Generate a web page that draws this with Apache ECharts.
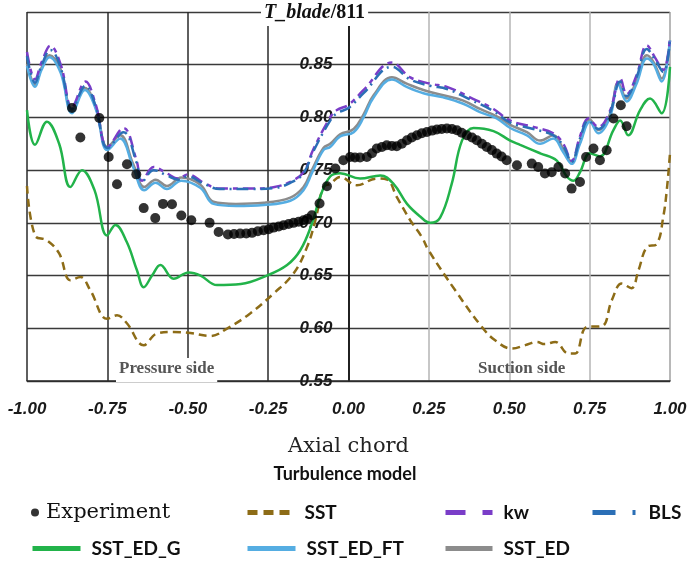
<!DOCTYPE html>
<html>
<head>
<meta charset="utf-8">
<script src="https://cdn.jsdelivr.net/npm/echarts@6/dist/echarts.min.js"></script>
<style>html,body{margin:0;padding:0;background:#fff}#c{width:690px;height:561px}</style>
</head>
<body>
<div id="c"></div>
<script>
// ---- data (x = axial chord, y = T_blade/811) ----
const xTicks = [-1, -0.75, -0.5, -0.25, 0, 0.25, 0.5, 0.75, 1];
const yTicks = [0.55, 0.60, 0.65, 0.70, 0.75, 0.80, 0.85, 0.90];

const experiment = [[-0.86,0.809],[-0.834,0.781],[-0.775,0.7995],[-0.746,0.7625],[-0.72,0.7366],[-0.689,0.7556],[-0.66,0.746],[-0.637,0.714],[-0.601,0.7045],[-0.577,0.718],[-0.549,0.7176],[-0.52,0.707],[-0.489,0.7025],[-0.432,0.700],[-0.404,0.6914],[-0.375,0.689],[-0.356,0.6895],[-0.337,0.6898],[-0.318,0.690],[-0.30,0.6905],[-0.282,0.692],[-0.264,0.693],[-0.248,0.694],[-0.233,0.6955],[-0.217,0.6965],[-0.202,0.6977],[-0.186,0.699],[-0.171,0.700],[-0.155,0.701],[-0.14,0.7025],[-0.127,0.704],[-0.114,0.7072],[-0.09,0.7183],[-0.067,0.7347],[-0.041,0.7515],[-0.016,0.7594],[0.005,0.7625],[0.02,0.762],[0.036,0.762],[0.057,0.7625],[0.073,0.766],[0.088,0.7705],[0.104,0.772],[0.119,0.7736],[0.135,0.773],[0.15,0.7726],[0.166,0.775],[0.182,0.7784],[0.197,0.781],[0.213,0.7831],[0.228,0.785],[0.244,0.7862],[0.26,0.7875],[0.275,0.7885],[0.29,0.789],[0.306,0.7895],[0.322,0.789],[0.337,0.7879],[0.352,0.7855],[0.368,0.7831],[0.384,0.781],[0.399,0.7784],[0.415,0.775],[0.43,0.772],[0.446,0.769],[0.461,0.7657],[0.476,0.763],[0.492,0.7594],[0.524,0.7547],[0.57,0.7562],[0.59,0.753],[0.611,0.7468],[0.632,0.748],[0.653,0.753],[0.674,0.7468],[0.694,0.7325],[0.72,0.7388],[0.739,0.7625],[0.762,0.7705],[0.782,0.7594],[0.803,0.7689],[0.824,0.799],[0.847,0.8116],[0.865,0.7917]];

const sst = [[-1.0,0.735],[-0.975,0.688],[-0.938,0.6835],[-0.9,0.671],[-0.865,0.6455],[-0.834,0.6487],[-0.803,0.636],[-0.751,0.609],[-0.72,0.6123],[-0.69,0.605],[-0.637,0.584],[-0.596,0.595],[-0.544,0.5965],[-0.492,0.5955],[-0.43,0.5927],[-0.378,0.5997],[-0.306,0.614],[-0.233,0.633],[-0.171,0.652],[-0.129,0.677],[-0.103,0.7025],[-0.078,0.734],[-0.057,0.737],[-0.026,0.7436],[0.026,0.7357],[0.088,0.742],[0.12,0.741],[0.15,0.7246],[0.192,0.7025],[0.228,0.6866],[0.249,0.674],[0.332,0.636],[0.415,0.6012],[0.456,0.5886],[0.508,0.5807],[0.55,0.584],[0.586,0.587],[0.61,0.585],[0.643,0.587],[0.684,0.576],[0.705,0.576],[0.741,0.6012],[0.788,0.602],[0.819,0.6266],[0.85,0.6424],[0.88,0.638],[0.902,0.655],[0.928,0.677],[0.959,0.680],[0.979,0.7056],[0.99,0.731],[1.0,0.766]];

const kw = [[-1.00,0.862],[-0.975,0.836],[-0.955,0.852],[-0.927,0.868],[-0.895,0.850],[-0.86,0.810],[-0.818,0.834],[-0.787,0.813],[-0.749,0.772],[-0.70,0.790],[-0.66,0.760],[-0.642,0.740],[-0.606,0.753],[-0.565,0.747],[-0.53,0.742],[-0.50,0.746],[-0.45,0.738],[-0.40,0.7325],[-0.30,0.7325],[-0.23,0.734],[-0.181,0.739],[-0.14,0.748],[-0.109,0.770],[-0.057,0.800],[-0.036,0.807],[0.0,0.812],[0.047,0.826],[0.135,0.852],[0.192,0.838],[0.254,0.832],[0.306,0.829],[0.378,0.819],[0.451,0.808],[0.503,0.797],[0.575,0.791],[0.637,0.785],[0.668,0.775],[0.694,0.759],[0.72,0.782],[0.746,0.799],[0.777,0.791],[0.813,0.806],[0.845,0.837],[0.865,0.822],[0.896,0.840],[0.928,0.8685],[0.953,0.857],[0.979,0.845],[1.0,0.876]];

const bls = [[-1.00,0.858],[-0.975,0.833],[-0.955,0.849],[-0.927,0.864],[-0.895,0.847],[-0.86,0.808],[-0.818,0.830],[-0.787,0.811],[-0.749,0.771],[-0.70,0.786],[-0.66,0.758],[-0.642,0.739],[-0.606,0.750],[-0.565,0.745],[-0.53,0.741],[-0.50,0.744],[-0.45,0.737],[-0.40,0.732],[-0.30,0.732],[-0.23,0.733],[-0.181,0.738],[-0.14,0.747],[-0.109,0.768],[-0.057,0.797],[-0.036,0.804],[0.0,0.809],[0.047,0.823],[0.135,0.848],[0.192,0.836],[0.254,0.830],[0.306,0.827],[0.378,0.817],[0.451,0.806],[0.503,0.795],[0.575,0.789],[0.637,0.783],[0.668,0.773],[0.694,0.758],[0.72,0.780],[0.746,0.797],[0.777,0.789],[0.813,0.804],[0.845,0.834],[0.865,0.820],[0.896,0.838],[0.928,0.865],[0.953,0.855],[0.979,0.843],[1.0,0.874]];

const sstEdG = [[-1.0,0.807],[-0.975,0.774],[-0.938,0.796],[-0.9,0.775],[-0.865,0.734],[-0.829,0.75],[-0.79,0.731],[-0.751,0.688],[-0.725,0.698],[-0.69,0.682],[-0.658,0.655],[-0.637,0.639],[-0.611,0.650],[-0.585,0.660],[-0.544,0.647],[-0.497,0.653],[-0.46,0.650],[-0.409,0.641],[-0.335,0.642],[-0.254,0.650],[-0.191,0.660],[-0.15,0.674],[-0.114,0.699],[-0.088,0.725],[-0.057,0.744],[-0.026,0.747],[0.036,0.742],[0.099,0.745],[0.14,0.737],[0.182,0.718],[0.223,0.706],[0.254,0.700],[0.285,0.705],[0.321,0.737],[0.353,0.778],[0.389,0.790],[0.451,0.787],[0.503,0.778],[0.534,0.774],[0.596,0.766],[0.648,0.759],[0.679,0.744],[0.70,0.740],[0.72,0.748],[0.751,0.766],[0.782,0.763],[0.824,0.788],[0.845,0.797],[0.87,0.783],[0.907,0.807],[0.938,0.818],[0.974,0.804],[1.0,0.848]];

const sstEdFt = [[-1.00,0.849],[-0.975,0.829],[-0.955,0.845],[-0.93,0.857],[-0.895,0.842],[-0.86,0.804],[-0.82,0.826],[-0.785,0.807],[-0.75,0.769],[-0.71,0.780],[-0.67,0.753],[-0.635,0.731],[-0.60,0.738],[-0.565,0.732],[-0.52,0.740],[-0.46,0.733],[-0.42,0.718],[-0.35,0.716],[-0.264,0.717],[-0.181,0.721],[-0.14,0.731],[-0.114,0.747],[-0.078,0.769],[-0.057,0.772],[-0.026,0.782],[0.016,0.786],[0.047,0.80],[0.078,0.819],[0.135,0.836],[0.181,0.829],[0.233,0.823],[0.295,0.819],[0.357,0.813],[0.409,0.805],[0.461,0.799],[0.503,0.790],[0.555,0.783],[0.596,0.775],[0.637,0.780],[0.668,0.767],[0.694,0.756],[0.720,0.775],[0.751,0.796],[0.777,0.785],[0.813,0.800],[0.839,0.831],[0.865,0.815],[0.896,0.832],[0.928,0.856],[0.948,0.851],[0.974,0.834],[1.0,0.873]];

const sstEd = [[-1.00,0.851],[-0.975,0.831],[-0.955,0.847],[-0.93,0.859],[-0.895,0.845],[-0.86,0.806],[-0.82,0.828],[-0.785,0.809],[-0.75,0.772],[-0.71,0.783],[-0.67,0.756],[-0.635,0.734],[-0.60,0.741],[-0.565,0.735],[-0.52,0.743],[-0.46,0.736],[-0.42,0.720],[-0.35,0.718],[-0.264,0.719],[-0.181,0.724],[-0.14,0.734],[-0.114,0.750],[-0.078,0.771],[-0.057,0.775],[-0.026,0.784],[0.016,0.789],[0.047,0.803],[0.078,0.821],[0.135,0.838],[0.181,0.832],[0.233,0.826],[0.295,0.821],[0.357,0.816],[0.409,0.808],[0.461,0.801],[0.503,0.793],[0.555,0.786],[0.596,0.778],[0.637,0.783],[0.668,0.770],[0.694,0.758],[0.720,0.777],[0.751,0.798],[0.777,0.788],[0.813,0.803],[0.839,0.833],[0.865,0.818],[0.896,0.835],[0.928,0.859],[0.948,0.853],[0.974,0.837],[1.0,0.873]];

const colors = {Experiment:'#000000', SST:'#8d6c17', kw:'#7a3dc8', BLS:'#2b6fb6', SST_ED_G:'#22b34a', SST_ED_FT:'#55ade2', SST_ED:'#8c8c8c'};

const chart = echarts.init(document.getElementById('c'), null, {renderer:'canvas'});

const lineSeries = (name, data, type, width, z) => ({
  name, type:'line', data, smooth:0.4, symbol:'none', z,
  lineStyle:{color:colors[name], width, type},
  itemStyle:{color:colors[name]}
});

const legendLine = (name, left, top, w, dash) => ({
  data:[name], left, top, itemWidth:w, itemHeight:14, itemGap:0,
  lineStyle:{width:5, type:dash, cap:'butt'},
  itemStyle:{opacity:0, color:'rgba(0,0,0,0)', borderWidth:0},
  textStyle:{fontFamily:'Lato', fontWeight:'bold', fontSize:19, color:'#111', padding:[0,0,0,6]}
});

const splitColors = ['#2a2a2a','#2a2a2a','#2a2a2a','#2a2a2a','#2a2a2a','#b5b5b5','#b5b5b5','#b5b5b5','#a0a0a0'];
const gridLeft = 27, gridRight = 20;
const zeroOffset = -(690 - gridLeft - gridRight) / 2;

chart.setOption({
  animation:false,
  backgroundColor:'#fff',
  grid:{left:gridLeft, right:gridRight, top:12, bottom:180, containLabel:false},
  title:{text:'Turbulence model', left:'center', top:460,
    textStyle:{fontFamily:'Lato', fontWeight:'bold', fontSize:18, color:'#111'}},
  legend:[
    {data:['Experiment'], left:26, top:497, icon:'circle', itemWidth:8, itemHeight:8,
      textStyle:{fontFamily:'DejaVu Serif', fontSize:21, color:'#111', padding:[0,0,0,2]}},
    legendLine('SST', 240, 498, 46, [10,6]),
    legendLine('kw', 438, 498, 47, [20,17,10,40]),
    legendLine('BLS', 585, 498, 45, [23,17,3,40]),
    legendLine('SST_ED_G', 25, 534, 48, 'solid'),
    legendLine('SST_ED_FT', 240, 534, 48, 'solid'),
    legendLine('SST_ED', 438, 534, 47, 'solid')
  ],
  xAxis:{
    type:'value', min:-1, max:1, interval:0.25,
    name:'Axial chord', nameLocation:'middle', nameGap:55,
    nameTextStyle:{fontFamily:'DejaVu Serif', fontSize:21, color:'#222'},
    axisLine:{onZero:false, lineStyle:{color:'#2a2a2a', width:1.5}},
    axisTick:{show:false},
    axisLabel:{margin:20, formatter:v=>v.toFixed(2), fontFamily:'Liberation Sans', fontStyle:'italic', fontWeight:'bold', fontSize:17, color:'#1a1a1a'},
    splitLine:{show:true, lineStyle:{color:splitColors, width:1.5}}
  },
  yAxis:{
    type:'value', min:0.55, max:0.90, interval:0.05, position:'left', offset:zeroOffset,
    axisLine:{show:true, onZero:false, lineStyle:{color:'#1a1a1a', width:1.8}},
    axisTick:{show:false},
    axisLabel:{margin:16, showMaxLabel:false, formatter:v=>(Math.abs(v-0.9)<1e-6?'':v.toFixed(2)),
      fontFamily:'Liberation Sans', fontStyle:'italic', fontWeight:'bold', fontSize:17, color:'#1a1a1a'},
    splitLine:{show:true, lineStyle:{color:'#3a3a3a', width:1.3}}
  },
  graphic:[
    {type:'text', left:261, top:2, z:100, style:{
      rich:{i:{fontFamily:'Liberation Serif', fontStyle:'italic', fontWeight:'bold', fontSize:20, fill:'#111'},
            b:{fontFamily:'Liberation Serif', fontWeight:'bold', fontSize:20, fill:'#111'}},
      text:'{i|T_blade}{b|/811}', backgroundColor:'#fff', padding:[1,3,3,3]}},
    {type:'text', left:116, top:358, z:100, style:{text:'Pressure side', fontFamily:'Liberation Serif', fontWeight:'bold', fontSize:17, fill:'#555', backgroundColor:'#fff', padding:[2,3,5,3]}},
    {type:'text', left:478, top:360, z:100, style:{text:'Suction side', fontFamily:'Liberation Serif', fontWeight:'bold', fontSize:17, fill:'#555'}}
  ],
  series:[
    lineSeries('SST', sst, [8,5], 2.5, 2),
    lineSeries('SST_ED_G', sstEdG, 'solid', 2.5, 3),
    lineSeries('SST_ED', sstEd, 'solid', 2.5, 4),
    lineSeries('SST_ED_FT', sstEdFt, 'solid', 2.5, 5),
    lineSeries('kw', kw, [12,5,5,5], 2.5, 6),
    lineSeries('BLS', bls, [12,5,2,5], 2.5, 7),
    {name:'Experiment', type:'scatter', data:experiment, symbol:'circle', symbolSize:10, z:10,
      itemStyle:{color:'#000'}}
  ]
});
</script>
</body>
</html>
